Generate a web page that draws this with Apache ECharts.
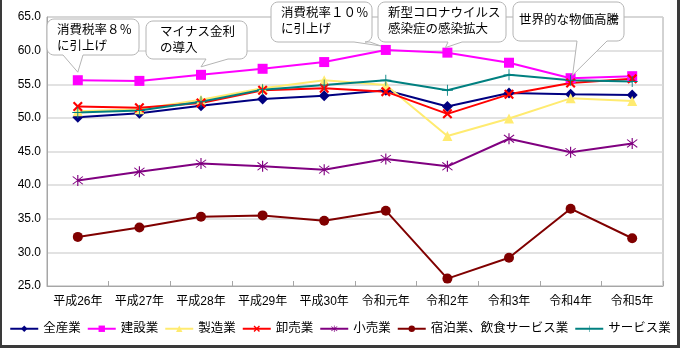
<!DOCTYPE html>
<html>
<head>
<meta charset="utf-8">
<script src="https://cdn.jsdelivr.net/npm/echarts@6/dist/echarts.min.js"></script>
<style>
  html, body { margin: 0; padding: 0; background: #fff; }
  #frame { position: relative; width: 680px; height: 348px; box-sizing: border-box;
           border-left: 2px solid #3a3a3a; border-right: 3px solid #3a3a3a; border-bottom: 3px solid #3a3a3a; }
  #chart { position: absolute; left: -2px; top: 0; width: 680px; height: 348px; }
</style>
</head>
<body>
<div id="frame"><div id="chart"></div></div>
<script>
// Fiscal years on the category axis
const categories = ['平成26年', '平成27年', '平成28年', '平成29年', '平成30年',
                    '令和元年', '令和2年', '令和3年', '令和4年', '令和5年'];

// Values by industry
const allIndustries = [501, 507, 518, 528, 533, 541, 517, 537, 535, 534];
const construction  = [556, 555, 564, 573, 583, 601, 597, 582, 559, 562];
const manufacturing = [510, 513, 527, 544, 556, 549, 473, 499, 529, 525];
const wholesale     = [517, 515, 522, 541, 544, 539, 506, 535, 552, 558];
const retail        = [407, 420, 432, 428, 423, 439, 428, 469, 449, 462];
const hospitality   = [323, 337, 353, 355, 347, 362, 261, 292, 365, 321];
const services      = [508, 511, 524, 542, 549, 556, 541, 564, 556, 554];

// Value axis range
const yMin = 250, yMax = 650, yStep = 50;

// Event notes and the year each one points at
const noteTexts = ['消費税率８％\nに引上げ', 'マイナス金利\nの導入', '消費税率１０％\nに引上げ',
                   '新型コロナウイルス\n感染症の感染拡大', '世界的な物価高騰'];
const noteYears = ['平成26年', '平成28年', '令和元年', '令和2年', '令和4年'];

const FONT = '"Liberation Sans", "Noto Sans CJK JP", sans-serif';

// Build a closed outline from rotated bars (all wound the same way)
function barsPath(angles, len, w) {
  let d = '';
  angles.forEach(a => {
    const r = a * Math.PI / 180, c = Math.cos(r), s = Math.sin(r);
    const pts = [[-len / 2, -w / 2], [len / 2, -w / 2], [len / 2, w / 2], [-len / 2, w / 2]]
      .map(([x, y]) => [10 + x * c - y * s, 10 + x * s + y * c]);
    d += 'M' + pts.map(p => p[0].toFixed(2) + ',' + p[1].toFixed(2)).join('L') + 'Z';
  });
  return 'path://' + d;
}
const symX = barsPath([45, 135], 20, 3.6);
const symStar = barsPath([90, 45, 135], 20, 1.6);
const symPlus = barsPath([0, 90], 20, 1.6);

function lineSeries(name, data, color, symbol, size) {
  return {
    name, type: 'line', data,
    symbol, symbolSize: size,
    lineStyle: { color, width: 2 },
    itemStyle: { color },
    emphasis: { disabled: true },
    animation: false
  };
}

const chart = echarts.init(document.getElementById('chart'), null, { renderer: 'canvas' });

chart.setOption({
  animation: false,
  textStyle: { fontFamily: FONT },
  grid: { left: 47, right: 17, top: 17, bottom: 62, show: true, borderColor: '#a6a6a6', borderWidth: 1 },
  xAxis: {
    type: 'category', data: categories, boundaryGap: true,
    axisLine: { lineStyle: { color: '#a6a6a6', width: 1 } },
    axisTick: { show: true, inside: true, length: 5, lineStyle: { color: '#a6a6a6' } },
    axisLabel: { color: '#000', fontSize: 12, margin: 10, interval: 0, fontFamily: FONT }
  },
  yAxis: {
    type: 'value', min: yMin, max: yMax, interval: yStep,
    axisLine: { show: true, lineStyle: { color: '#a6a6a6', width: 1 } },
    axisTick: { show: false },
    splitLine: { lineStyle: { color: '#d9d9d9', width: 1.5 } },
    axisLabel: { color: '#000', fontSize: 12, margin: 6, fontFamily: FONT,
                 formatter: v => (v / 10).toFixed(1) }
  },
  legend: {
    bottom: 13, left: 'center', padding: 0, itemGap: 6, itemWidth: 28, itemHeight: 8,
    textStyle: { color: '#000', fontSize: 12.5, fontFamily: FONT },
    data: ['全産業', '建設業', '製造業', '卸売業', '小売業', '宿泊業、飲食サービス業', 'サービス業']
  },
  series: [
    lineSeries('全産業', allIndustries, '#000080', 'diamond', 11),
    lineSeries('建設業', construction, '#ff00ff', 'rect', 10),
    lineSeries('製造業', manufacturing, '#ffeb70', 'triangle', 10),
    lineSeries('卸売業', wholesale, '#ff0000', symX, 10),
    lineSeries('小売業', retail, '#800080', symStar, 11),
    lineSeries('宿泊業、飲食サービス業', hospitality, '#800000', 'circle', 10),
    lineSeries('サービス業', services, '#008080', symPlus, 11)
  ]
});

// Speech-bubble outline: rounded box with a pointer leaving the bottom edge
function bubblePoints(x0, y0, x1, y1, r, bx0, bx1, tip) {
  const pts = [];
  const arc = (cx, cy, a0, a1) => {
    for (let i = 0; i <= 6; i++) {
      const a = (a0 + (a1 - a0) * i / 6) * Math.PI / 180;
      pts.push([cx + r * Math.cos(a), cy + r * Math.sin(a)]);
    }
  };
  arc(x0 + r, y0 + r, 180, 270);
  arc(x1 - r, y0 + r, 270, 360);
  arc(x1 - r, y1 - r, 0, 90);
  pts.push([bx1, y1], tip, [bx0, y1]);
  arc(x0 + r, y1 - r, 90, 180);
  return pts;
}

// Box geometry for each note; the pointer tip is anchored to the construction series
const noteBoxes = [
  { box: [47, 19, 139, 55], base: [63, 83], off: [0, -8], text: [57, 23] },
  { box: [146, 21, 247, 59], base: [206, 228], off: [0, -8], text: [160, 25] },
  { box: [271, 2, 372, 42], base: [354, 370], off: [-5, -4], text: [281, 6] },
  { box: [378, 2, 506, 42], base: [448, 462], off: [-2, -5], text: [388, 6] },
  { box: [513, 2, 624, 41], base: [577, 607], off: [2, -3], text: [519, 13] }
];

const graphics = [];
noteBoxes.forEach((n, i) => {
  const idx = categories.indexOf(noteYears[i]);
  const p = chart.convertToPixel({ seriesIndex: 1 }, [idx, construction[idx]]);
  const tip = [p[0] + n.off[0], p[1] + n.off[1]];
  graphics.push({
    type: 'polygon', z: 100,
    shape: { points: bubblePoints(n.box[0], n.box[1], n.box[2], n.box[3], 7, n.base[0], n.base[1], tip) },
    style: { fill: '#ffffff', stroke: '#b4b4b4', lineWidth: 1 }
  });
  graphics.push({
    type: 'text', z: 101, left: n.text[0], top: n.text[1],
    style: { text: noteTexts[i], fill: '#000', font: '12.5px ' + FONT, lineHeight: 16 }
  });
});
chart.setOption({ graphic: graphics });
</script>
</body>
</html>
